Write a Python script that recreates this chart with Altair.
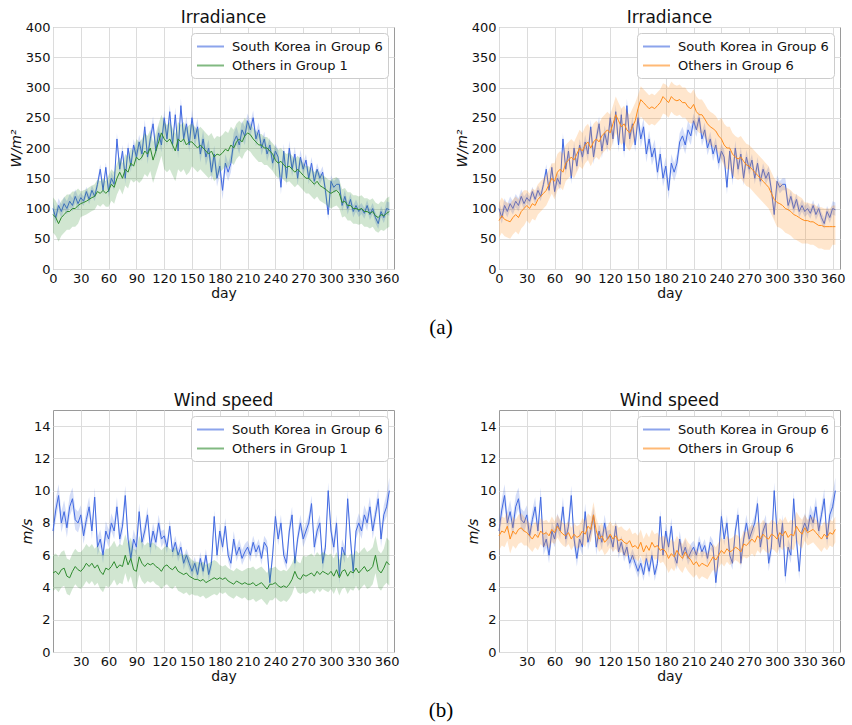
import altair as alt
import pandas as pd

DAYS = list(range(0, 366, 3))

SK_NAME = "South Korea in Group 6"
G1_NAME = "Others in Group 1"
G6_NAME = "Others in Group 6"

# Irradiance (W/m^2), every 3 days
SK_IRR = [100, 85, 105, 95, 108, 100, 112, 105, 120, 108,
          118, 112, 128, 115, 130, 120, 140, 165, 130, 168,
          128, 150, 140, 215, 165, 195, 150, 200, 170, 205,
          185, 210, 190, 235, 185, 215, 240, 195, 225, 205,
          250, 215, 260, 205, 255, 195, 270, 215, 240, 205,
          250, 215, 235, 190, 215, 185, 200, 160, 190, 150,
          170, 130, 175, 160, 175, 210, 220, 205, 230, 220,
          245, 230, 250, 215, 230, 200, 215, 190, 205, 175,
          195, 185, 135, 195, 150, 200, 165, 190, 150, 185,
          165, 180, 150, 175, 145, 165, 150, 160, 130, 90,
          145, 135, 140, 140, 105, 120, 100, 115, 95, 105,
          95, 100, 92, 105, 90, 100, 85, 75, 95, 85,
          100, 98]
G1_IRR = [90, 85, 75, 85, 90, 95, 95, 100, 100, 105,
          108, 110, 112, 115, 118, 120, 128, 125, 130, 125,
          130, 140, 135, 150, 160, 150, 165, 160, 175, 170,
          185, 180, 185, 195, 190, 200, 180, 195, 210, 225,
          215, 210, 215, 205, 195, 215, 210, 215, 205, 210,
          210, 205, 200, 205, 200, 195, 190, 195, 185, 190,
          188, 192, 198, 195, 205, 200, 210, 215, 210, 220,
          225, 222, 215, 210, 205, 205, 200, 200, 195, 190,
          180, 175, 178, 172, 168, 170, 165, 160, 165, 160,
          155, 150, 150, 145, 140, 145, 138, 135, 132, 128,
          125, 128, 130, 125, 110, 112, 105, 105, 100, 100,
          98, 100, 95, 95, 92, 95, 88, 85, 90, 88,
          92, 95]
G6_IRR = [80, 88, 82, 80, 78, 85, 90, 85, 95, 100,
          105, 100, 108, 105, 115, 120, 125, 130, 140, 150,
          145, 160, 165, 160, 175, 180, 185, 180, 190, 200,
          195, 205, 210, 200, 210, 215, 210, 220, 225, 230,
          225, 240, 255, 245, 235, 240, 230, 225, 235, 245,
          265, 280, 275, 270, 265, 268, 265, 270, 275, 285,
          280, 275, 285, 280, 278, 280, 275, 275, 268, 265,
          272, 260, 255, 255, 248, 240, 235, 232, 228, 220,
          215, 205, 200, 200, 190, 185, 182, 185, 178, 172,
          170, 165, 160, 155, 150, 145, 140, 135, 125, 115,
          110, 108, 105, 100, 98, 95, 90, 88, 85, 82,
          80, 80, 78, 78, 75, 72, 72, 70, 70, 70,
          70, 70]

# Wind speed (m/s), every 3 days
SK_WIND = [7.5, 8.8, 9.7, 8.0, 8.7, 7.7, 9.0, 9.5, 8.2, 8.0,
           8.5, 7.2, 8.2, 9.0, 7.5, 9.6, 6.5, 7.0, 6.0, 7.5,
           7.0, 8.0, 7.5, 9.0, 7.0, 7.8, 9.7, 7.0, 5.8, 7.0,
           6.5, 8.7, 6.8, 7.5, 8.5, 6.5, 7.5, 6.8, 8.0, 7.0,
           7.2, 6.5, 7.8, 6.2, 6.8, 6.0, 6.5, 5.5, 6.0, 5.5,
           5.0, 5.5, 4.8, 5.8, 5.0, 6.0, 4.8, 5.5, 8.4, 6.0,
           7.5, 6.5, 7.8, 6.0, 5.5, 7.0, 6.0, 6.5, 5.8, 6.2,
           6.5, 6.0, 6.8, 6.2, 6.6, 5.8, 6.8, 6.5, 4.3, 6.0,
           8.4, 7.0, 8.0, 6.0, 5.5, 7.5, 8.5, 5.5, 7.0, 8.0,
           7.0, 7.5, 8.0, 9.2, 6.5, 7.5, 8.0, 5.5, 6.5, 10.0,
           7.5, 6.5, 8.0, 4.7, 6.5, 6.0, 9.5, 7.0, 5.0, 7.5,
           8.0, 7.5, 8.5, 8.0, 9.0, 7.5, 8.5, 9.5, 7.0, 8.5,
           9.0, 10.0]
G1_WIND = [4.9, 5.0, 4.8, 5.1, 5.2, 4.7, 4.6, 5.0, 5.3, 5.1,
           5.0, 5.2, 5.5, 5.3, 5.5, 5.2, 5.4, 5.0, 4.8, 5.2,
           5.1, 5.3, 5.6, 5.2, 5.4, 5.3, 6.0, 5.4, 5.8, 5.1,
           5.0, 5.9, 5.5, 5.3, 5.5, 5.4, 5.5, 5.3, 5.2, 5.0,
           5.3, 5.4, 5.2, 5.1, 5.3, 5.0, 4.9, 4.8, 4.9, 4.7,
           4.6, 4.5, 4.5, 4.4, 4.5, 4.3, 4.4, 4.5, 4.6, 4.5,
           4.6, 4.5, 4.6, 4.4, 4.3, 4.2, 4.4, 4.3, 4.2, 4.3,
           4.2, 4.2, 4.3, 4.1, 4.2, 4.3, 4.1, 3.9, 4.2, 4.2,
           4.3, 4.1, 4.0, 4.1, 4.0, 4.2, 4.5, 5.0, 4.6, 4.5,
           4.8, 4.7, 4.8, 4.9, 4.7, 5.0, 4.8, 5.0, 4.9, 4.8,
           5.0, 4.7, 5.1, 4.6, 5.0, 5.1, 4.7, 5.0, 4.9, 5.2,
           4.9, 5.1, 5.3, 5.0, 5.1, 5.3, 6.0, 5.1, 4.9, 5.2,
           5.6, 5.4]
G6_WIND = [7.2, 7.5, 7.4, 7.8, 7.0, 7.5, 7.3, 7.6, 7.7, 7.5,
           7.4, 7.2, 7.0, 7.3, 7.1, 7.5, 7.3, 7.4, 7.2, 7.6,
           7.4, 7.8, 7.5, 7.3, 7.2, 7.4, 7.0, 7.3, 7.1, 7.2,
           7.5, 7.3, 7.8, 7.6, 8.5, 7.5, 7.0, 7.2, 6.8, 7.0,
           7.3, 7.0, 7.2, 6.9, 7.0, 6.8, 6.7, 6.9, 6.5, 6.6,
           6.4, 6.8, 6.2, 6.6, 6.3, 6.8, 6.5, 6.6, 6.3, 6.4,
           6.2, 5.8, 6.1, 5.9, 6.3, 6.0, 5.8, 6.2, 5.9, 5.7,
           5.4, 5.6, 5.3, 5.5, 5.4, 5.3, 5.6, 5.9, 5.7, 6.0,
           6.3, 6.1, 6.4, 6.2, 6.3, 6.5, 6.4, 6.2, 6.7, 6.6,
           6.8, 7.0, 6.8, 7.2, 7.0, 7.3, 7.1, 7.0, 7.3, 7.2,
           7.0, 7.4, 7.2, 7.5, 7.1, 7.3, 7.2, 7.8, 7.5, 7.3,
           7.7, 7.4, 7.5, 7.6, 7.4, 7.2, 7.0, 7.3, 7.1, 7.4,
           7.3, 7.6]

# Band widths below / above the mean, one value per 30-day block
SK_IRR_LO = [10, 8, 10, 12, 12, 14, 15, 12, 12, 10, 10, 9, 10]
SK_IRR_HI = [12, 8, 10, 12, 12, 14, 15, 12, 12, 10, 10, 9, 12]
G1_IRR_LO = [30, 22, 27, 38, 50, 40, 28, 28, 25, 25, 25, 25, 25]
G1_IRR_HI = [28, 20, 25, 30, 28, 30, 30, 18, 22, 20, 22, 22, 25]
G6_IRR_LO = [28, 25, 30, 30, 30, 28, 25, 30, 35, 35, 40, 38, 30]
G6_IRR_HI = [30, 25, 30, 30, 30, 22, 25, 25, 35, 35, 35, 30, 35]
SK_WIND_LO = [0.6, 0.5, 0.5, 0.5, 0.4, 0.4, 0.4, 0.4, 0.4, 0.5, 0.5, 0.5, 0.6]
SK_WIND_HI = [0.7, 0.6, 0.6, 0.5, 0.4, 0.4, 0.5, 0.4, 0.5, 0.5, 0.5, 0.6, 0.8]
G1_WIND_LO = [1.1, 1.1, 1.1, 1.1, 1.2, 1.0, 0.9, 1.0, 0.9, 1.1, 1.1, 1.1, 1.3]
G1_WIND_HI = [1.1, 1.2, 1.3, 1.3, 1.2, 1.1, 0.8, 1.0, 1.0, 1.2, 1.1, 1.2, 1.5]
G6_WIND_LO = [0.9, 0.8, 0.7, 0.8, 0.8, 0.8, 0.9, 0.8, 0.8, 0.9, 0.9, 0.8, 0.8]
G6_WIND_HI = [0.9, 0.8, 0.7, 0.8, 0.8, 0.8, 0.9, 0.8, 0.8, 0.9, 0.9, 0.8, 0.8]

X_TICKS_TOP = [0, 30, 60, 90, 120, 150, 180, 210, 240, 270, 300, 330, 360]
X_TICKS_BOT = [30, 60, 90, 120, 150, 180, 210, 240, 270, 300, 330, 360]
Y_TICKS_IRR = [0, 50, 100, 150, 200, 250, 300, 350, 400]
Y_TICKS_WIND = [0, 2, 4, 6, 8, 10, 12, 14]

BLUE = "#4169e1"
GREEN = "#2e8b2e"
ORANGE = "#ff8c1a"
FONT = "DejaVu Sans"
W, H = 341, 242


def frame(name, values, lo_w, hi_w):
    rows = []
    for d, v in zip(DAYS, values):
        m = min(d // 30, len(lo_w) - 1)
        rows.append({"day": d, "value": v, "lo": v - lo_w[m],
                     "hi": v + hi_w[m], "series": name})
    return pd.DataFrame(rows)


def panel(title, sk_df, oth_df, oth_name, oth_color, ytitle, ydomain, yticks,
          xticks, title_x, title_offset, caption):
    xs = alt.Scale(domain=[0, 368], nice=False, zero=False)
    ys = alt.Scale(domain=ydomain, nice=False, zero=False)
    xax = alt.Axis(values=xticks, title="day", labelFlush=False,
                   labelOverlap=False, labelBound=False,
                   titleY=24, titleBaseline="middle")
    yax = alt.Axis(values=yticks, title=ytitle, titleFontStyle="italic",
                   titleX=title_x, titleY=H / 2, titleBaseline="middle",
                   titleAngle=270, titleAlign="center")
    x = alt.X("day:Q", scale=xs, axis=xax)
    cscale = alt.Scale(domain=[SK_NAME, oth_name], range=[BLUE, oth_color])
    legend = alt.Legend(title=None, orient="top-right", offset=6,
                        fillColor="white", strokeColor="#cccccc",
                        cornerRadius=4, padding=5,
                        symbolType="M-1.8,0H1.8", symbolSize=225,
                        symbolOffset=6, symbolStrokeWidth=2,
                        symbolOpacity=0.6, labelFont=FONT, labelFontSize=13,
                        labelColor="#111111", rowPadding=3, labelOffset=13)

    def band(df, col):
        return alt.Chart(df).mark_area(color=col, opacity=0.22).encode(
            x=x, y=alt.Y("lo:Q", scale=ys, axis=yax), y2="hi:Q")

    def line(df):
        return alt.Chart(df).mark_line(strokeWidth=1).encode(
            x=x, y=alt.Y("value:Q", scale=ys, axis=yax),
            color=alt.Color("series:N", scale=cscale, legend=legend))

    layers = [band(sk_df, BLUE), line(sk_df), band(oth_df, oth_color),
              line(oth_df)]
    if caption:
        cap = alt.Chart(pd.DataFrame({"label": [caption]})).mark_text(
            font="Liberation Serif", fontSize=21, color="black").encode(
            x=alt.value(388), y=alt.value(301), text="label:N")
        layers.append(cap)
    return alt.layer(*layers).properties(
        width=W, height=H,
        title=alt.TitleParams(title, fontSize=17, font=FONT,
                              fontWeight="normal", color="#111111",
                              offset=title_offset, frame="group"))


sk_irr = frame(SK_NAME, SK_IRR, SK_IRR_LO, SK_IRR_HI)
g1_irr = frame(G1_NAME, G1_IRR, G1_IRR_LO, G1_IRR_HI)
g6_irr = frame(G6_NAME, G6_IRR, G6_IRR_LO, G6_IRR_HI)
sk_wind = frame(SK_NAME, SK_WIND, SK_WIND_LO, SK_WIND_HI)
g1_wind = frame(G1_NAME, G1_WIND, G1_WIND_LO, G1_WIND_HI)
g6_wind = frame(G6_NAME, G6_WIND, G6_WIND_LO, G6_WIND_HI)

p1 = panel("Irradiance", sk_irr, g1_irr, G1_NAME, GREEN, "W/m²", [0, 400],
           Y_TICKS_IRR, X_TICKS_TOP, -37, -6, "(a)")
p2 = panel("Irradiance", sk_irr, g6_irr, G6_NAME, ORANGE, "W/m²", [0, 400],
           Y_TICKS_IRR, X_TICKS_TOP, -37, -6, None)
p3 = panel("Wind speed", sk_wind, g1_wind, G1_NAME, GREEN, "m/s", [0, 15],
           Y_TICKS_WIND, X_TICKS_BOT, -26, 0, "(b)")
p4 = panel("Wind speed", sk_wind, g6_wind, G6_NAME, ORANGE, "m/s", [0, 15],
           Y_TICKS_WIND, X_TICKS_BOT, -26, 0, None)

chart = alt.concat(
    p1, p2, p3, p4, columns=2, spacing={"row": 141, "column": 105},
    bounds="flush"
).resolve_scale(color="independent").properties(
    padding={"left": 8, "top": 8, "right": 5, "bottom": 3},
    background="white"
).configure_view(
    stroke="#9a9a9a", strokeWidth=1
).configure_axis(
    domain=False, ticks=False, tickSize=0, labelPadding=3, grid=True,
    gridColor="#dcdcdc", gridWidth=1, labelFont=FONT, labelFontSize=13,
    labelColor="#111111", titleFont=FONT, titleFontSize=14,
    titleFontWeight="normal", titleColor="#111111"
)

chart.save("out.html", embed_options={"renderer": "svg", "actions": False})
